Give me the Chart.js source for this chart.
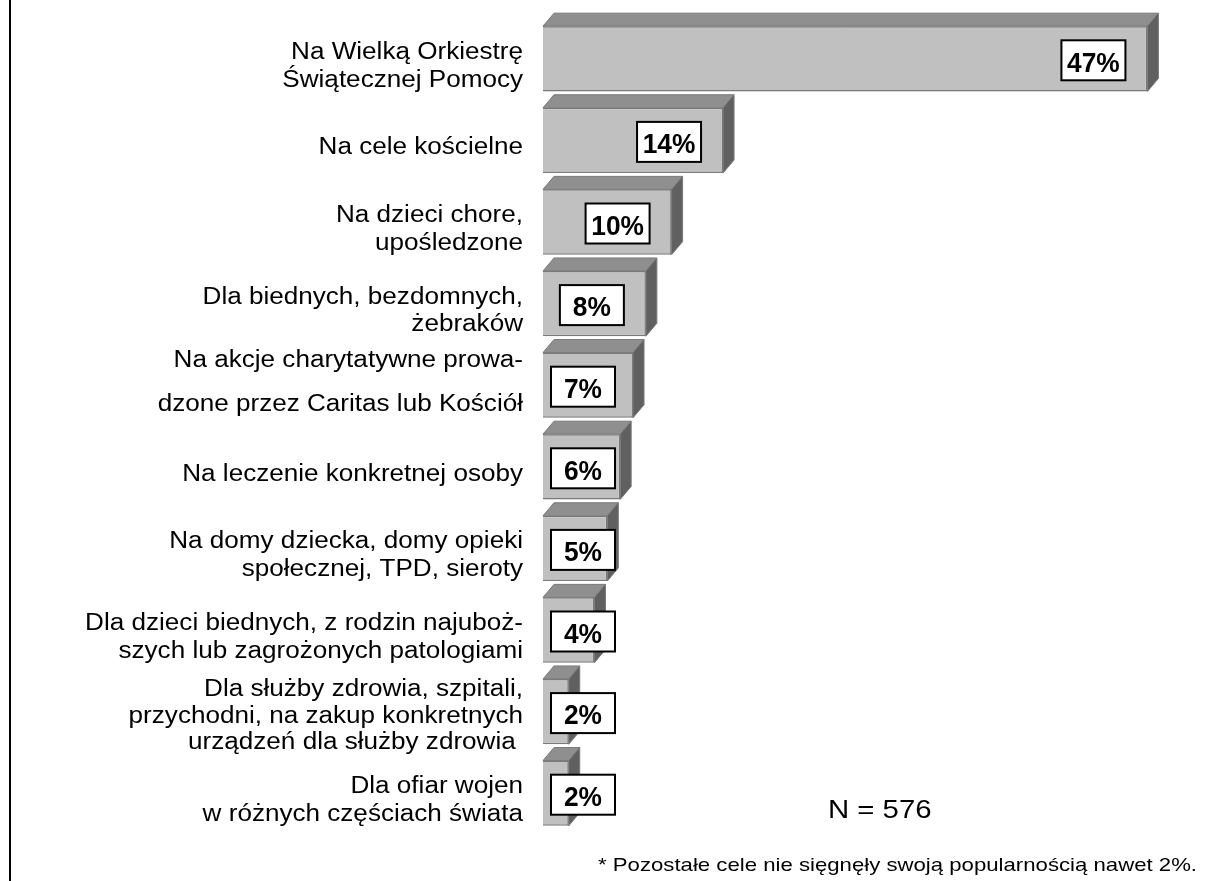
<!DOCTYPE html>
<html>
<head>
<meta charset="utf-8">
<title>Cele darowizn</title>
<script src="https://cdn.jsdelivr.net/npm/chart.js@4.4.0/dist/chart.umd.min.js"></script>
<style>
  html, body { margin: 0; padding: 0; background: #fff; }
  canvas { display: block; }
</style>
</head>
<body>
<canvas id="grafico" width="1209" height="881"></canvas>
<script>
// categorias (linhas já quebradas como no original)
const categorias = [
    ['Na Wielką Orkiestrę', 'Świątecznej Pomocy'],
    ['Na cele kościelne'],
    ['Na dzieci chore,', 'upośledzone'],
    ['Dla biednych, bezdomnych,', 'żebraków'],
    ['Na akcje charytatywne prowa-', 'dzone przez Caritas lub Kościół'],
    ['Na leczenie konkretnej osoby'],
    ['Na domy dziecka, domy opieki', 'społecznej, TPD, sieroty'],
    ['Dla dzieci biednych, z rodzin najuboż-', 'szych lub zagrożonych patologiami'],
    ['Dla służby zdrowia, szpitali,', 'przychodni, na zakup konkretnych', 'urządzeń dla służby zdrowia '],
    ['Dla ofiar wojen', 'w różnych częściach świata']
];
const valores = [47, 14, 10, 8, 7, 6, 5, 4, 2, 2];
const rotulosValores = valores.map(v => v + '%');
const escalaX = [0, 50];

const textoN = 'N = 576';
const textoRodape = '* Pozostałe cele nie sięgnęły swoją popularnością nawet 2%.';

const FONTE = '"Liberation Sans", Arial, sans-serif';
const corFrente = '#c0c0c0';
const corTopo = '#8f8f8f';
const corLado = '#606060';
const corContorno = '#7a7a7a';
const profX = 11, profY = 13;

function textoEsticado(ctx, txt, x, yBase, esticar, alinhar) {
    ctx.save();
    ctx.translate(x, yBase);
    ctx.scale(esticar, 1);
    ctx.textAlign = alinhar;
    ctx.textBaseline = 'alphabetic';
    ctx.fillText(txt, 0, 0);
    ctx.restore();
}

// faces superior e lateral das barras (efeito 3D)
const bryla3d = {
    id: 'bryla3d',
    beforeDatasetsDraw(chart) {
        const ctx = chart.ctx;
        const meta = chart.getDatasetMeta(0);
        ctx.save();
        ctx.lineWidth = 1;
        ctx.strokeStyle = corContorno;
        meta.data.forEach(barra => {
            const { x, y, base, height } = barra.getProps(['x', 'y', 'base', 'height'], true);
            const topo = y - height / 2;
            const fundo = y + height / 2;

            ctx.beginPath();
            ctx.moveTo(base, topo);
            ctx.lineTo(base + profX, topo - profY);
            ctx.lineTo(x + profX, topo - profY);
            ctx.lineTo(x, topo);
            ctx.closePath();
            ctx.fillStyle = corTopo;
            ctx.fill();
            ctx.stroke();

            ctx.beginPath();
            ctx.moveTo(x, topo);
            ctx.lineTo(x + profX, topo - profY);
            ctx.lineTo(x + profX, fundo - profY);
            ctx.lineTo(x, fundo);
            ctx.closePath();
            ctx.fillStyle = corLado;
            ctx.fill();
            ctx.stroke();
        });
        ctx.restore();
    }
};

// rótulos das categorias, caixas com percentagens, N e nota de rodapé
const etiquetas = {
    id: 'etiquetas',
    afterDatasetsDraw(chart) {
        const ctx = chart.ctx;
        const meta = chart.getDatasetMeta(0);
        const escalaY = chart.scales.y;
        ctx.save();
        ctx.fillStyle = '#000';

        // categorias
        ctx.font = '23.5px ' + FONTE;
        categorias.forEach((linhas, i) => {
            // o rótulo da Caritas tem um espaço maior entre as linhas
            const entreLinhas = i === 4 ? 44 : (linhas.length > 2 ? 26.8 : 27.7);
            const desloc = i === 4 ? -5 : (linhas.length > 2 ? 2.5 : 5.5);
            const centro = escalaY.getPixelForValue(i) + desloc;
            linhas.forEach((linha, k) => {
                const meio = centro + (k - (linhas.length - 1) / 2) * entreLinhas;
                textoEsticado(ctx, linha, 523, meio + 8.4, 1.11, 'right');
            });
        });

        // caixas com valores
        meta.data.forEach((barra, i) => {
            const { x, y } = barra.getProps(['x', 'y'], true);
            const cx = Math.max(x - 54, 583);
            const cy = y + 1.5;
            const w = 64, h = 40;
            ctx.fillStyle = '#fff';
            ctx.fillRect(cx - w / 2, cy - h / 2, w, h);
            ctx.lineWidth = 2;
            ctx.strokeStyle = '#000';
            ctx.strokeRect(cx - w / 2, cy - h / 2, w, h);
            ctx.fillStyle = '#000';
            ctx.font = 'bold 28px ' + FONTE;
            textoEsticado(ctx, rotulosValores[i], cx, cy + 11.3, 0.94, 'center');
        });

        // N
        ctx.font = '25.5px ' + FONTE;
        textoEsticado(ctx, textoN, 828, 818, 1.15, 'left');

        // rodapé
        ctx.font = '19px ' + FONTE;
        const largura = ctx.measureText(textoRodape).width;
        textoEsticado(ctx, textoRodape, 598, 871, 599 / largura, 'left');

        // linha vertical à esquerda
        ctx.beginPath();
        ctx.moveTo(10, 0);
        ctx.lineTo(10, 881);
        ctx.lineWidth = 2;
        ctx.strokeStyle = '#000';
        ctx.stroke();
        ctx.restore();
    }
};

const grafico = new Chart(document.getElementById('grafico'), {
    type: 'bar',
    data: {
        labels: categorias,
        datasets: [{
            data: valores,
            backgroundColor: corFrente,
            borderColor: corContorno,
            borderWidth: 1.5,
            barPercentage: 0.8,
            categoryPercentage: 1,
            clip: false
        }]
    },
    options: {
        responsive: false,
        animation: false,
        devicePixelRatio: 1,
        indexAxis: 'y',
        layout: { padding: { left: 543, right: 23, top: 18, bottom: 47 } },
        plugins: {
            legend: { display: false },
            tooltip: { enabled: false }
        },
        scales: {
            x: { display: false, min: escalaX[0], max: escalaX[1] },
            y: { display: false }
        }
    },
    plugins: [bryla3d, etiquetas]
});
</script>
</body>
</html>
